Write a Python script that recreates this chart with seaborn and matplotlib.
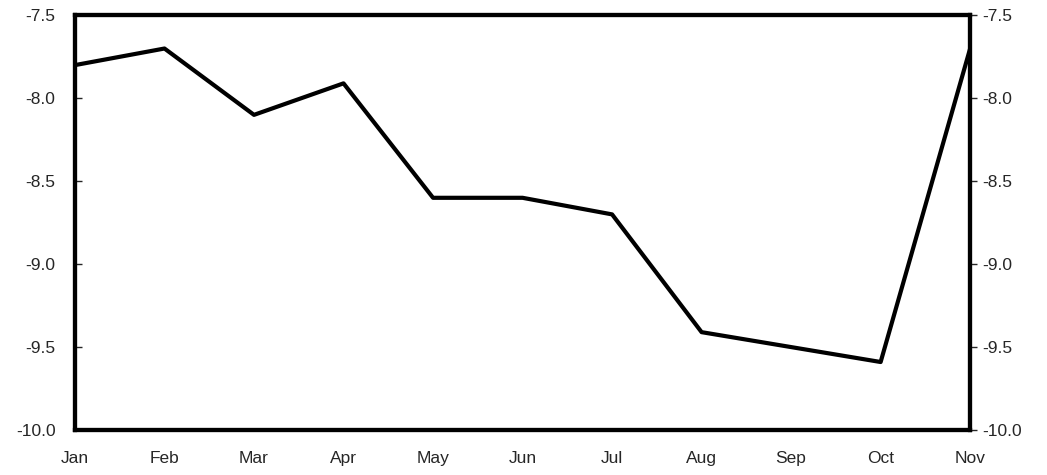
import matplotlib
matplotlib.use("Agg")
import matplotlib.pyplot as plt
import seaborn as sns
import pandas as pd

months = ["Jan", "Feb", "Mar", "Apr", "May", "Jun", "Jul", "Aug", "Sep", "Oct", "Nov"]
values = [-7.8, -7.7, -8.1, -7.91, -8.6, -8.6, -8.7, -9.41, -9.5, -9.59, -7.7]
yticks = [-10.0, -9.5, -9.0, -8.5, -8.0, -7.5]

sns.set_style("white")
plt.rcParams['font.family'] = ['Liberation Sans', 'DejaVu Sans']

df = pd.DataFrame({"pos": range(len(months)), "value": values})

fig = plt.figure(figsize=(10.47, 4.75), dpi=100)
ax = fig.add_axes([0.0716, 0.0947, 0.855, 0.873])
sns.lineplot(data=df, x="pos", y="value", color="black", linewidth=3, ax=ax)

ax.set_xlim(0, len(months) - 1)
ax.set_ylim(-10, -7.5)
ax.set_xticks(range(len(months)))
ax.set_xticklabels(months)
ax.set_xlabel("")
ax.set_ylabel("")
ax.set_yticks(yticks)
ax.set_yticklabels([f"{t:.1f}" for t in yticks])
ax.tick_params(axis="y", direction="in", length=5, width=1, labelsize=12.5, left=True, right=False, pad=14)
ax.tick_params(axis="x", length=0, labelsize=12.5, pad=15)

ax2 = ax.twinx()
ax2.set_ylim(-10, -7.5)
ax2.set_yticks(yticks)
ax2.set_yticklabels([f"{t:.1f}" for t in yticks])
ax2.tick_params(axis="y", direction="out", length=5, width=1, labelsize=12.5, pad=4)
for a in (ax, ax2):
    for s in a.spines.values():
        s.set_linewidth(3)
        s.set_color("black")

fig.savefig("out.png", dpi=100)
